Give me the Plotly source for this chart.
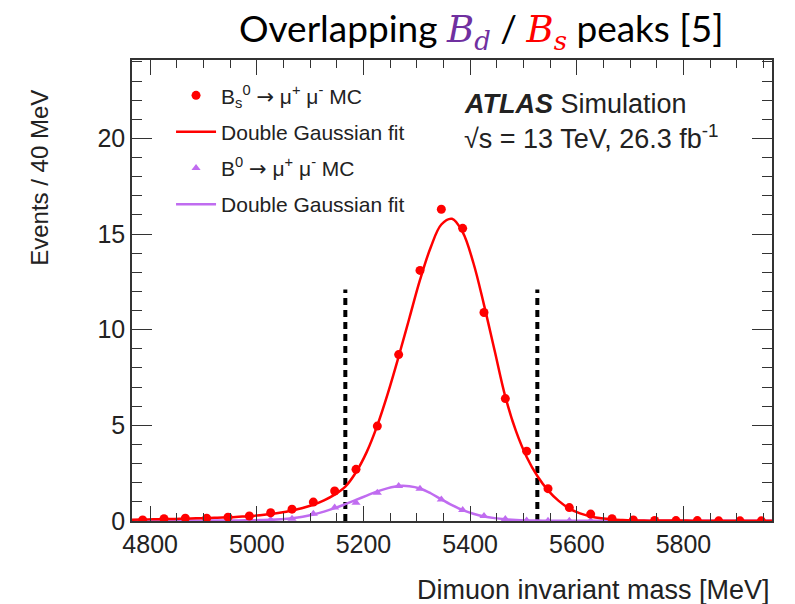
import plotly.graph_objects as go

# Bin centres (40 MeV bins) of the dimuon invariant mass
mass_bins = [4786, 4826, 4866, 4906, 4946, 4986, 5026, 5066, 5106, 5146,
             5186, 5226, 5266, 5306, 5346, 5386, 5426, 5466, 5506, 5546,
             5586, 5626, 5666, 5706, 5746, 5786, 5826, 5866, 5906, 5946]

# Bs0 -> mu+ mu- MC events per bin
bs_counts = [0.05, 0.12, 0.15, 0.15, 0.20, 0.26, 0.43, 0.62, 0.99, 1.57,
             2.70, 4.96, 8.70, 13.1, 16.3, 15.3, 10.9, 6.40, 3.65, 1.69,
             0.70, 0.36, 0.12, 0.05, 0.03, 0.02, 0.02, 0.01, 0.01, 0.01]
bs_errors = [0.02, 0.02, 0.02, 0.02, 0.03, 0.03, 0.04, 0.05, 0.06, 0.08,
             0.10, 0.12, 0.15, 0.17, 0.20, 0.19, 0.16, 0.13, 0.10, 0.07,
             0.05, 0.03, 0.02, 0.02, 0.01, 0.01, 0.01, 0.01, 0.01, 0.01]

# B0 -> mu+ mu- MC events per bin
bd_counts = [0.02, 0.02, 0.02, 0.03, 0.04, 0.05, 0.06, 0.12, 0.38, 0.70,
             0.96, 1.48, 1.83, 1.69, 1.12, 0.57, 0.26, 0.10, 0.03, 0.01,
             0.01, 0.01, 0.01, 0.01, 0.01, 0.01, 0.01, 0.01, 0.01, 0.01]

# Double Gaussian fit curves sampled on a 20 MeV grid
fit_mass = [4766, 4786, 4806, 4826, 4846, 4866, 4886, 4906, 4926, 4946,
            4966, 4986, 5006, 5026, 5046, 5066, 5086, 5106, 5126, 5146,
            5166, 5186, 5206, 5226, 5246, 5266, 5286, 5306, 5326, 5346,
            5366, 5386, 5406, 5426, 5446, 5466, 5486, 5506, 5526, 5546,
            5566, 5586, 5606, 5626, 5646, 5666, 5686, 5706, 5726, 5746,
            5766, 5786, 5806, 5826, 5846, 5866, 5886, 5906, 5926, 5946, 5966]
bs_fit = [0.07, 0.08, 0.09, 0.10, 0.11, 0.12, 0.14, 0.15, 0.17, 0.19,
          0.22, 0.25, 0.30, 0.36, 0.44, 0.55, 0.68, 0.85, 1.08, 1.38,
          1.80, 2.55, 3.60, 5.00, 6.70, 8.60, 10.6, 12.6, 14.3, 15.5,
          15.8, 15.1, 13.5, 11.3, 8.90, 6.50, 4.70, 3.35, 2.35, 1.60,
          1.05, 0.65, 0.40, 0.24, 0.14, 0.08, 0.05, 0.03, 0.02, 0.02,
          0.02, 0.02, 0.02, 0.01, 0.01, 0.01, 0.01, 0.01, 0.01, 0.01, 0.01]
bd_fit = [0.01, 0.01, 0.01, 0.01, 0.02, 0.02, 0.02, 0.02, 0.03, 0.03,
          0.03, 0.04, 0.05, 0.06, 0.09, 0.14, 0.22, 0.34, 0.49, 0.67,
          0.88, 1.10, 1.33, 1.55, 1.72, 1.83, 1.82, 1.70, 1.45, 1.13,
          0.83, 0.57, 0.38, 0.24, 0.15, 0.09, 0.05, 0.03, 0.02, 0.01,
          0.01, 0.01, 0.01, 0.01, 0.01, 0.01, 0.01, 0.01, 0.01, 0.01,
          0.01, 0.01, 0.01, 0.01, 0.01, 0.01, 0.01, 0.01, 0.01, 0.01, 0.01]

# Signal window boundaries
window_edges = [5166, 5526]
window_height = 12.1

RED = "#ff0000"
PURPLE = "#c06cf0"
AXIS = "#333333"
TXT = "#222222"
FONT = "Liberation Sans, Arial, sans-serif"
ARROW = "<span style='font-family:DejaVu Sans'>→</span>"

fig = go.Figure()

for edge in window_edges:
    fig.add_trace(go.Scatter(
        x=[edge, edge], y=[0, window_height], mode="lines",
        line=dict(color="black", width=4, dash="7px,5px"),
        showlegend=False, hoverinfo="skip"))

fig.add_trace(go.Scatter(
    x=fit_mass, y=bd_fit, mode="lines", line=dict(color=PURPLE, width=2.5, shape="spline"),
    name="Double Gaussian fit", legendgroup="d2", legendrank=4))
fig.add_trace(go.Scatter(
    x=mass_bins, y=bd_counts, mode="markers",
    marker=dict(symbol="triangle-up", size=8, color=PURPLE),
    name=f"B<sup>0</sup> {ARROW} μ<sup>+</sup> μ<sup>-</sup> MC", legendgroup="d1", legendrank=3))
fig.add_trace(go.Scatter(
    x=fit_mass, y=bs_fit, mode="lines", line=dict(color=RED, width=2.5, shape="spline"),
    name="Double Gaussian fit", legendgroup="s2", legendrank=2))
fig.add_trace(go.Scatter(
    x=mass_bins, y=bs_counts, mode="markers",
    marker=dict(symbol="circle", size=9, color=RED),
    error_y=dict(type="data", array=bs_errors, color=RED, thickness=2, width=0),
    name=f"B<sub>s</sub><sup>0</sup> {ARROW} μ<sup>+</sup> μ<sup>-</sup> MC",
    legendgroup="s1", legendrank=1))

axis_common = dict(
    showline=True, linecolor=AXIS, linewidth=1.5, mirror="ticks",
    ticks="inside", tickcolor=AXIS, tickwidth=1.2,
    showgrid=False, zeroline=False,
    tickfont=dict(family=FONT, size=25, color=TXT),
)

fig.update_xaxes(range=[4766, 5966], tick0=4800, dtick=200, ticklen=15,
                 minor=dict(dtick=50, tick0=4800, ticklen=8, ticks="inside",
                            tickcolor=AXIS, tickwidth=1.2, showgrid=False),
                 **axis_common)
fig.update_yaxes(range=[0, 24.1], tick0=0, dtick=5, ticklen=20,
                 minor=dict(dtick=1, tick0=0, ticklen=10, ticks="inside",
                            tickcolor=AXIS, tickwidth=1.2, showgrid=False),
                 **axis_common)

fig.add_annotation(
    xref="paper", yref="paper", x=-0.145, y=0.745, xanchor="center", yanchor="middle",
    text="Events / 40 MeV", textangle=-90, showarrow=False,
    font=dict(family=FONT, size=24, color=TXT))
fig.add_annotation(
    xref="paper", yref="paper", x=1.0, y=-0.15, xanchor="right", yanchor="middle",
    text="Dimuon invariant mass [MeV]", showarrow=False,
    font=dict(family=FONT, size=27, color=TXT))

fig.add_annotation(
    xref="paper", yref="paper", x=0.515, y=0.905, xanchor="left", yanchor="middle",
    text="<b><i>ATLAS</i></b> Simulation", showarrow=False,
    font=dict(family=FONT, size=27, color=TXT))
fig.add_annotation(
    xref="paper", yref="paper", x=0.515, y=0.832, xanchor="left", yanchor="middle",
    text="√s = 13 TeV, 26.3 fb<sup>-1</sup>", showarrow=False,
    font=dict(family=FONT, size=27, color=TXT))

fig.add_annotation(
    xref="paper", yref="paper", x=0.545, y=1.065, xanchor="center", yanchor="middle",
    text=("Overlapping "
          "<span style='color:#7030a0;font-family:DejaVu Serif'><i>B<sub>d</sub></i></span>"
          " / "
          "<span style='color:#ff0000;font-family:DejaVu Serif'><i>B<sub>s</sub></i></span>"
          " peaks [5]"),
    showarrow=False, font=dict(family="Lato, Carlito, sans-serif", size=37, color="black"))

fig.update_layout(
    width=795, height=604,
    margin=dict(l=132, r=23, t=60, b=83),
    paper_bgcolor="white", plot_bgcolor="white",
    showlegend=True,
    legend=dict(x=0.061, y=0.967, xanchor="left", yanchor="top",
                bgcolor="rgba(0,0,0,0)", tracegroupgap=6, itemwidth=40,
                traceorder="grouped",
                font=dict(family=FONT, size=21, color=TXT)),
)

fig.write_html("out.html")
